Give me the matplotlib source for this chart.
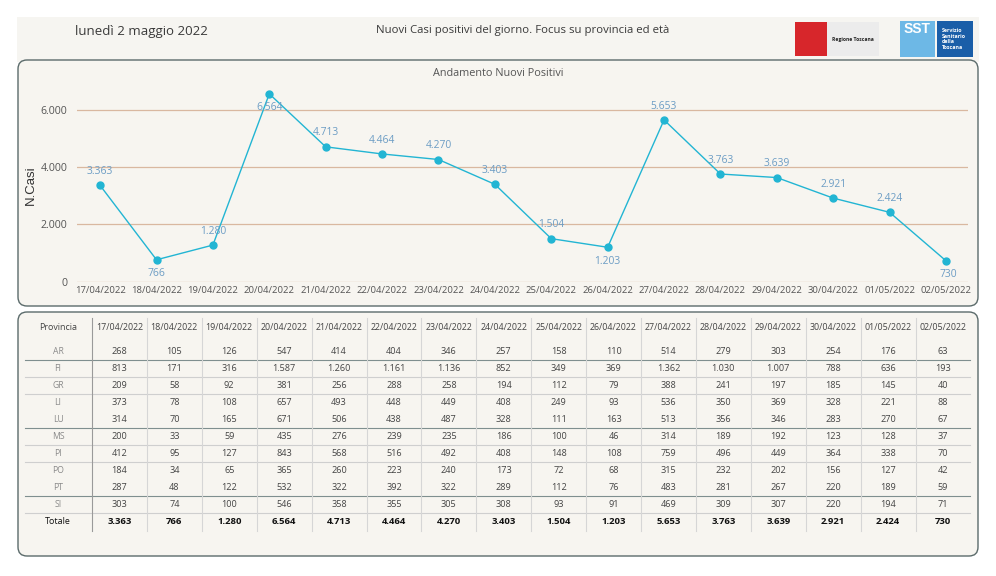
import matplotlib
matplotlib.use('Agg')
import matplotlib.pyplot as plt
from matplotlib.patches import FancyBboxPatch, Rectangle

plt.rcParams['font.family'] = ['Open Sans', 'DejaVu Sans']

dates = ['17/04/2022', '18/04/2022', '19/04/2022', '20/04/2022', '21/04/2022',
         '22/04/2022', '23/04/2022', '24/04/2022', '25/04/2022', '26/04/2022',
         '27/04/2022', '28/04/2022', '29/04/2022', '30/04/2022', '01/05/2022',
         '02/05/2022']
province = ['AR', 'FI', 'GR', 'LI', 'LU', 'MS', 'PI', 'PO', 'PT', 'SI']
ar = [268, 105, 126, 547, 414, 404, 346, 257, 158, 110, 514, 279, 303, 254, 176, 63]
fi = [813, 171, 316, 1587, 1260, 1161, 1136, 852, 349, 369, 1362, 1030, 1007, 788, 636, 193]
gr = [209, 58, 92, 381, 256, 288, 258, 194, 112, 79, 388, 241, 197, 185, 145, 40]
li = [373, 78, 108, 657, 493, 448, 449, 408, 249, 93, 536, 350, 369, 328, 221, 88]
lu = [314, 70, 165, 671, 506, 438, 487, 328, 111, 163, 513, 356, 346, 283, 270, 67]
ms = [200, 33, 59, 435, 276, 239, 235, 186, 100, 46, 314, 189, 192, 123, 128, 37]
pi = [412, 95, 127, 843, 568, 516, 492, 408, 148, 108, 759, 496, 449, 364, 338, 70]
po = [184, 34, 65, 365, 260, 223, 240, 173, 72, 68, 315, 232, 202, 156, 127, 42]
pt = [287, 48, 122, 532, 322, 392, 322, 289, 112, 76, 483, 281, 267, 220, 189, 59]
si = [303, 74, 100, 546, 358, 355, 305, 308, 93, 91, 469, 309, 307, 220, 194, 71]
totale = [3363, 766, 1280, 6564, 4713, 4464, 4270, 3403, 1504, 1203, 5653, 3763,
          3639, 2921, 2424, 730]
rows = [ar, fi, gr, li, lu, ms, pi, po, pt, si]

W, H = 996, 576
PANEL = '#f7f5f0'
EDGE = '#5b6b6b'
LINE = '#22b5d3'
LBL = '#6b9cc4'


def fmt(v):
    return '{:,}'.format(v).replace(',', '.')


fig = plt.figure(figsize=(W / 100, H / 100), dpi=100)
fig.patch.set_facecolor('white')

# background axes in pixel coordinates
bg = fig.add_axes([0, 0, 1, 1])
bg.set_xlim(0, W)
bg.set_ylim(H, 0)
bg.axis('off')

# header band
bg.add_patch(Rectangle((17, 17), 962, 45, facecolor='#f6f5f1', edgecolor='none'))
bg.text(75, 31, 'lunedì 2 maggio 2022', fontsize=9.5, color='#3a3a3a', va='center')
bg.text(523, 31, 'Nuovi Casi positivi del giorno. Focus su provincia ed età',
        fontsize=8.2, color='#3a3a3a', va='center', ha='center')

# logos
bg.add_patch(Rectangle((795, 22), 84, 34, facecolor='#ececec', edgecolor='none'))
bg.add_patch(Rectangle((795, 22), 32, 34, facecolor='#d7262b', edgecolor='none'))
bg.text(853, 39, 'Regione Toscana', fontsize=3.6, color='#222', ha='center',
        va='center', fontweight='bold')
bg.add_patch(Rectangle((900, 21), 35, 36, facecolor='#6db8e6', edgecolor='none'))
bg.text(917, 29, 'SST', fontsize=10, color='white', ha='center', va='center',
        fontweight='bold', family='Liberation Sans')
bg.add_patch(Rectangle((937, 21), 36, 36, facecolor='#1a5ea8', edgecolor='none'))
bg.text(942, 39, 'Servizio\nSanitario\ndella\nToscana', fontsize=3.8, color='white',
        ha='left', va='center', fontweight='bold', linespacing=1.1)

# panels
for y0, y1 in [(60, 306), (312, 556)]:
    bg.add_patch(FancyBboxPatch((18, y0), 960, y1 - y0,
                                boxstyle='round,pad=0,rounding_size=9',
                                facecolor=PANEL, edgecolor=EDGE, linewidth=1.0))

bg.text(498, 73, 'Andamento Nuovi Positivi', fontsize=7.8, color='#555555',
        ha='center', va='center')
bg.text(31, 185, 'N.Casi', fontsize=9.5, color='#333333', rotation=90,
        ha='center', va='center', family='Liberation Sans')

# line chart
ax = fig.add_axes([77 / W, 1 - 281.7 / H, (968 - 77) / W, (281.7 - 75) / H])
ax.set_facecolor('none')
xs = list(range(len(dates)))
ax.plot(xs, totale, color=LINE, linewidth=1.0, marker='o', markersize=5,
        zorder=3)
below = {1, 3, 9, 15}
for i, v in enumerate(totale):
    if i in below:
        dx = 2 if i == 15 else 0
        ax.annotate(fmt(v), (i, v), xytext=(dx, -10), textcoords='offset points',
                    ha='center', va='center', fontsize=7.4, color=LBL)
    else:
        ax.annotate(fmt(v), (i, v), xytext=(0, 10), textcoords='offset points',
                    ha='center', va='center', fontsize=7.4, color=LBL)
ax.set_xlim(-0.41, 15.39)
ax.set_ylim(0, 7223)
ax.set_yticks([0, 2000, 4000, 6000])
ax.set_yticklabels(['0', '2.000', '4.000', '6.000'])
ax.set_xticks(xs)
ax.set_xticklabels(dates)
ax.tick_params(axis='both', length=0, colors='#555555')
ax.tick_params(axis='x', pad=3, labelsize=6.8)
ax.tick_params(axis='y', pad=7, labelsize=7.6)
ax.grid(axis='y', color='#d9b8a0', linewidth=0.9)
ax.set_axisbelow(True)
for s in ax.spines.values():
    s.set_visible(False)

# table
col_w = 54.9
x_sep0 = 92
row_y0 = 351
row_h = 17.1
head_y = 328
tot_y = 522

bg.text(58, head_y, 'Provincia', fontsize=6.4, color='#444444', ha='center', va='center')
for j, d in enumerate(dates):
    bg.text(x_sep0 + col_w * (j + 0.5), head_y, d, fontsize=6.4, color='#444444',
            ha='center', va='center')

for i, (p, vals) in enumerate(zip(province, rows)):
    y = row_y0 + row_h * i
    bg.text(58, y, p, fontsize=6.2, color='#8a8a8a', ha='center', va='center')
    for j, v in enumerate(vals):
        bg.text(x_sep0 + col_w * (j + 0.5), y, fmt(v), fontsize=6.6,
                color='#444444', ha='center', va='center')

bg.text(58, tot_y, 'Totale', fontsize=6.4, color='#111111', ha='center', va='center')
for j, v in enumerate(totale):
    bg.text(x_sep0 + col_w * (j + 0.5), tot_y, fmt(v), fontsize=6.8,
            color='#111111', ha='center', va='center', fontweight='bold')

# grid of the table
dark_after = {0, 4, 8}
skip_after = {3, 7}
for i in range(len(province)):
    if i in skip_after:
        continue
    y = row_y0 + row_h * i + row_h / 2
    c = '#7f8f8f' if i in dark_after else '#cfcfcf'
    bg.plot([25, 970], [y, y], color=c, linewidth=0.8)
for j in range(len(dates)):
    x = x_sep0 + col_w * j
    c = '#9a9a9a' if j == 0 else '#d6d6d6'
    bg.plot([x, x], [318, 531], color=c, linewidth=0.8)

fig.savefig('out.png', dpi=100, facecolor='white')
